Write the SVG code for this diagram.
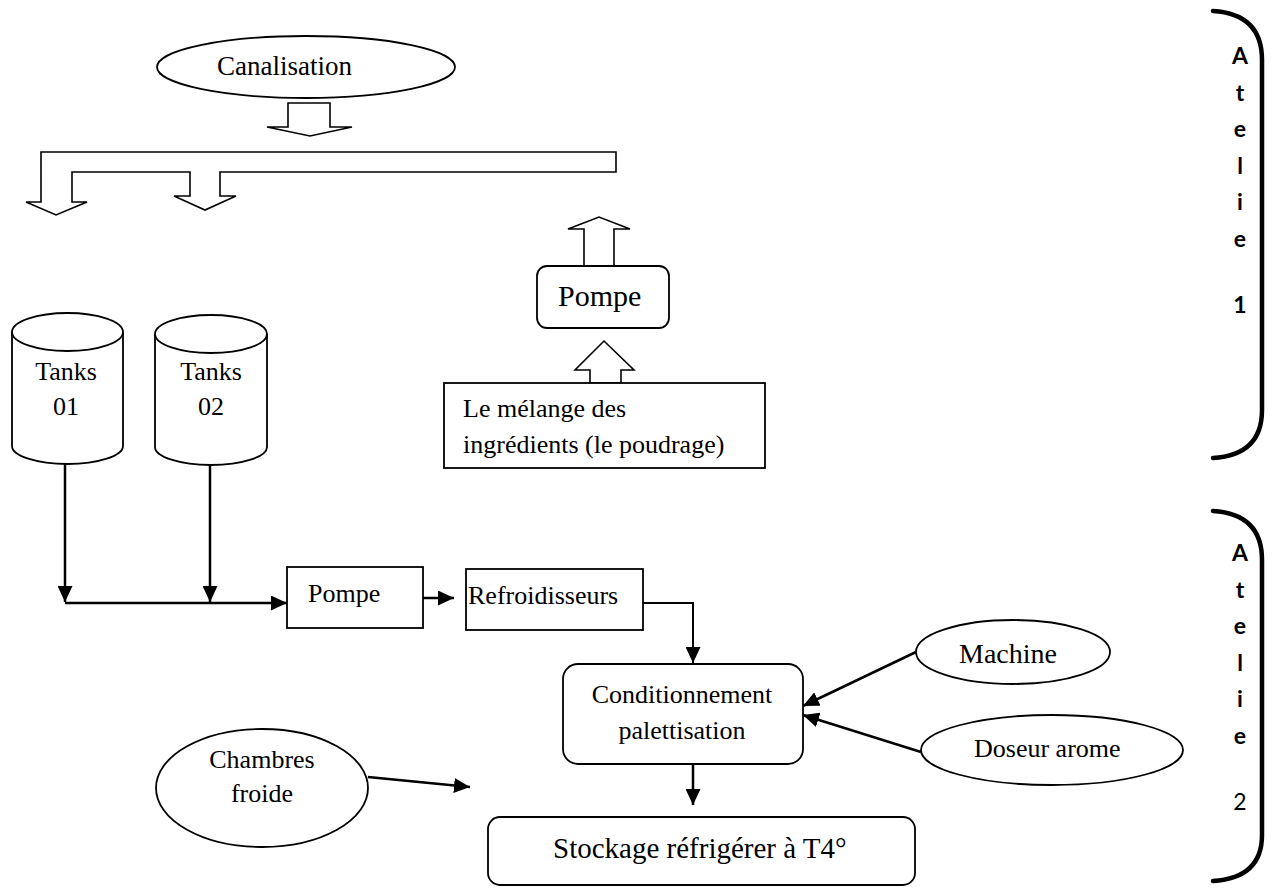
<svg xmlns="http://www.w3.org/2000/svg" width="1272" height="888" viewBox="0 0 1272 888">
<style>
.s{fill:#fff;stroke:#000;stroke-width:1.8}
.b{fill:#fff;stroke:#000;stroke-width:1.6}
.t{font-family:"Liberation Serif","Times New Roman",serif;font-size:26px;fill:#000}
.c{stroke:#000;stroke-width:2.5;fill:none}
.br{stroke:#000;stroke-width:4.5;fill:none;stroke-linecap:round}
.l{font-family:Lato,"Open Sans",sans-serif;font-size:23px;font-weight:bold;fill:#000;text-anchor:middle}
</style>
<defs>
<marker id="ah" markerUnits="userSpaceOnUse" markerWidth="16" markerHeight="15" viewBox="0 0 16 15" refX="16" refY="7.5" orient="auto">
<path d="M0,0 L16,7.5 L0,15 z" fill="#000"/>
</marker>
</defs>
<rect width="1272" height="888" fill="#fff"/>

<g id="canalisation">
<ellipse class="s" cx="306" cy="67" rx="149" ry="31"/>
<text class="t" x="217" y="75" style="font-size:27px">Canalisation</text>
</g>
<g id="canal-arrow">
<polygon class="b" points="288,103 330,103 330,127 352,127 310,136 267,127 288,127"/>
</g>
<g id="manifold">
<polygon class="b" points="41,152 616,152 616,172 220,172 220,196 236,196 205,210 174,196 190,196 190,172 72,172 72,202 87,202 56,215 26,202 41,202"/>
</g>

<g id="tank1">
<path class="s" d="M12,332 L12,446 A55.5,18 0 0 0 123,446 L123,332"/>
<ellipse class="s" cx="67.5" cy="332" rx="55.5" ry="19"/>
<text class="t" x="66" y="380" text-anchor="middle">Tanks</text>
<text class="t" x="66" y="415" text-anchor="middle">01</text>
</g>
<g id="tank2">
<path class="s" d="M155,334 L155,447 A56,18 0 0 0 267,447 L267,334"/>
<ellipse class="s" cx="211" cy="334" rx="56" ry="19"/>
<text class="t" x="211" y="380" text-anchor="middle">Tanks</text>
<text class="t" x="211" y="415" text-anchor="middle">02</text>
</g>

<g id="pompe1">
<polygon class="b" points="584,266 584,229 568,229 599,217 630,229 614,229 614,266"/>
<rect class="s" x="537" y="266" width="132" height="62" rx="10"/>
<text class="t" x="558" y="306" style="font-size:30px">Pompe</text>
</g>
<g id="melange">
<polygon class="b" points="590,383 590,370 575,370 604,341 634,370 621,370 621,383"/>
<rect class="s" x="444" y="383" width="321" height="85"/>
<text class="t" x="463" y="417">Le mélange des</text>
<text class="t" x="463" y="453">ingrédients (le poudrage)</text>
</g>

<g id="pompe2">
<rect class="s" x="287" y="567" width="136" height="61"/>
<text class="t" x="308" y="602">Pompe</text>
</g>
<g id="refroidisseurs">
<rect class="s" x="466" y="569" width="177" height="61"/>
<text class="t" x="468" y="604">Refroidisseurs</text>
</g>
<g id="conditionnement">
<rect class="s" x="563" y="664" width="240" height="100" rx="15"/>
<text class="t" x="682" y="703" text-anchor="middle">Conditionnement</text>
<text class="t" x="682" y="739" text-anchor="middle">palettisation</text>
</g>
<g id="stockage">
<rect class="s" x="488" y="817" width="427" height="68" rx="12"/>
<text class="t" x="553" y="858" style="font-size:29px">Stockage réfrigérer à T4°</text>
</g>
<g id="chambres">
<ellipse class="s" cx="262" cy="788" rx="106" ry="59"/>
<text class="t" x="262" y="768" text-anchor="middle">Chambres</text>
<text class="t" x="262" y="802" text-anchor="middle">froide</text>
</g>
<g id="machine">
<ellipse class="s" cx="1013" cy="652" rx="97" ry="32"/>
<text class="t" x="959" y="663" style="font-size:28px">Machine</text>
</g>
<g id="doseur">
<ellipse class="s" cx="1052" cy="750" rx="131" ry="35"/>
<text class="t" x="974" y="757">Doseur arome</text>
</g>

<g id="connectors">
<line class="c" x1="65" y1="464" x2="65" y2="602" marker-end="url(#ah)"/>
<line class="c" x1="210" y1="465" x2="210" y2="602" marker-end="url(#ah)"/>
<line class="c" x1="65" y1="603" x2="287" y2="603" marker-end="url(#ah)"/>
<line class="c" x1="423" y1="598" x2="454" y2="598" marker-end="url(#ah)"/>
<polyline class="c" style="stroke-width:2" points="643,603 693,603 693,663" marker-end="url(#ah)"/>
<line class="c" x1="693" y1="764" x2="693" y2="805" marker-end="url(#ah)"/>
<line class="c" x1="916" y1="652" x2="803" y2="706" marker-end="url(#ah)"/>
<line class="c" x1="921" y1="752" x2="803" y2="715" marker-end="url(#ah)"/>
<line class="c" x1="368" y1="777" x2="470" y2="787" marker-end="url(#ah)"/>
</g>

<g id="atelier1">
<path class="br" d="M1213,11 Q1262,14 1262,60 L1262,410 Q1262,455 1213,458"/>
<text class="l" x="1240" y="64">A</text>
<text class="l" x="1240" y="101">t</text>
<text class="l" x="1240" y="137">e</text>
<text class="l" x="1240" y="174">l</text>
<text class="l" x="1240" y="210">i</text>
<text class="l" x="1240" y="247">e</text>
<text class="l" x="1240" y="313">1</text>
</g>
<g id="atelier2">
<path class="br" d="M1213,511 Q1262,514 1262,560 L1262,835 Q1262,878 1213,881"/>
<text class="l" x="1240" y="561">A</text>
<text class="l" x="1240" y="598">t</text>
<text class="l" x="1240" y="634">e</text>
<text class="l" x="1240" y="671">l</text>
<text class="l" x="1240" y="707">i</text>
<text class="l" x="1240" y="744">e</text>
<text class="l" x="1240" y="810" style="font-weight:normal">2</text>
</g>
</svg>
